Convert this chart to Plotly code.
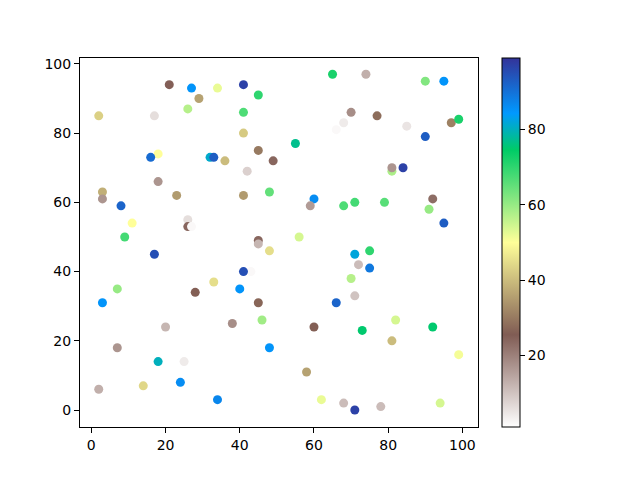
import plotly.graph_objects as go

x_vals = [2, 17, 21, 27, 29, 26, 34, 41, 45, 41, 41, 45, 49, 55, 65, 74, 70, 68, 66, 77,
          85, 90, 95, 97, 99, 90, 84, 81, 81, 92, 91, 95, 18, 16, 32, 33, 36, 42, 18, 3,
          3, 8, 23, 41, 48, 60, 59, 68, 71, 79, 11, 9, 26, 26, 27, 45, 45, 48, 56, 17,
          43, 41, 71, 75, 72, 75, 70, 7, 3, 33, 28, 40, 45, 66, 71, 20, 38, 46, 60, 73,
          82, 92, 81, 7, 18, 25, 48, 58, 99, 2, 14, 24, 34, 62, 68, 71, 78, 94]
y_vals = [85, 85, 94, 93, 90, 87, 93, 94, 91, 86, 80, 75, 72, 77, 97, 97, 86, 83, 81, 85,
          82, 95, 95, 83, 84, 79, 70, 69, 70, 61, 58, 54, 74, 73, 73, 73, 72, 69, 66, 63,
          61, 59, 62, 62, 63, 61, 59, 59, 60, 60, 54, 50, 55, 53, 53, 49, 48, 46, 50, 45,
          40, 40, 45, 46, 42, 41, 38, 35, 31, 37, 34, 35, 31, 31, 33, 24, 25, 26, 24, 23,
          26, 24, 20, 18, 14, 14, 18, 11, 16, 6, 7, 8, 3, 3, 2, 0, 1, 2]
c_vals = [43, 6, 25, 85, 36, 57, 52, 97, 70, 67, 42, 30, 24, 77, 72, 13, 18, 4, 2, 28,
          5, 62, 85, 31, 72, 93, 97, 58, 17, 23, 60, 93, 50, 91, 81, 93, 40, 8, 17, 38,
          17, 92, 35, 35, 65, 86, 16, 67, 68, 66, 50, 68, 6, 24, 2, 24, 12, 45, 54, 95,
          2, 95, 82, 70, 11, 89, 57, 60, 85, 45, 26, 85, 27, 92, 10, 12, 18, 59, 26, 75,
          54, 75, 40, 17, 80, 4, 85, 36, 51, 13, 44, 86, 87, 52, 11, 97, 11, 54]

terrain_r = [
    [0.00, "rgb(255,255,255)"],
    [0.25, "rgb(128,92,84)"],
    [0.50, "rgb(255,255,153)"],
    [0.75, "rgb(0,204,102)"],
    [0.85, "rgb(0,153,255)"],
    [1.00, "rgb(51,51,153)"],
]

font = dict(family="DejaVu Sans", size=14, color="black")

fig = go.Figure(go.Scatter(
    x=x_vals, y=y_vals, mode="markers",
    marker=dict(
        size=9, color=c_vals, colorscale=terrain_r, cmin=1, cmax=99,
        line=dict(width=0),
        colorbar=dict(
            x=1.0603, xanchor="left", xpad=0, ypad=0,
            y=0.5, yanchor="middle",
            len=1.0, lenmode="fraction", thickness=18,
            outlinewidth=1, outlinecolor="black",
            ticks="outside", ticklen=5, tickcolor="black",
            tickvals=[20, 40, 60, 80],
            tickfont=font,
        ),
    ),
    showlegend=False,
))

axis_common = dict(
    showgrid=False, zeroline=False, showline=True, linecolor="black", linewidth=1,
    mirror=True, ticks="outside", ticklen=5, tickcolor="black",
    tickfont=font,
)

fig.update_layout(
    width=632, height=472,
    margin=dict(l=72, r=162, t=50, b=53, autoexpand=False),
    plot_bgcolor="white", paper_bgcolor="white",
    xaxis=dict(range=[-3.05, 104.2], tickvals=[0, 20, 40, 60, 80, 100], **axis_common),
    yaxis=dict(range=[-4.9, 101.7], tickvals=[0, 20, 40, 60, 80, 100], **axis_common),
)

fig.write_html("out.html")
